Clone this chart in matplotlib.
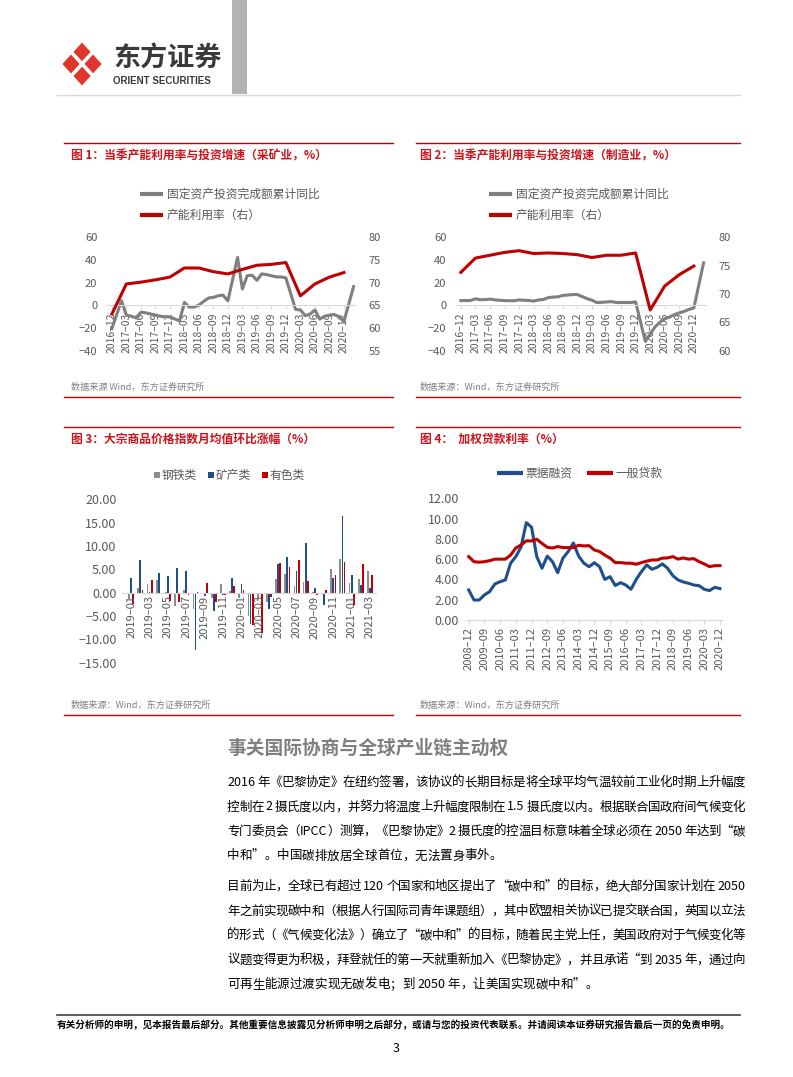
import re
import numpy as np
import pandas as pd
import matplotlib
matplotlib.use('Agg')
import matplotlib.pyplot as plt
from matplotlib.patches import Polygon, Rectangle
from matplotlib.textpath import TextToPath
from matplotlib.font_manager import FontProperties
from matplotlib.ticker import FuncFormatter

plt.rcParams['font.family'] = ['Noto Sans CJK SC', 'DejaVu Sans']
plt.rcParams['axes.unicode_minus'] = True

W, H = 793, 1077
RED = '#c00000'
GREY = '#7f7f7f'
BLUE = '#1f4e8c'
TXT = '#595959'

# ---- chart 1 / 2 : FAI (monthly, cumulative yoy) and capacity utilisation (quarterly)
quarters = ['2016-12', '2017-03', '2017-06', '2017-09', '2017-12', '2018-03', '2018-06',
            '2018-09', '2018-12', '2019-03', '2019-06', '2019-09', '2019-12', '2020-03',
            '2020-06', '2020-09', '2020-12']
fai_dates = ['2016-12', '2017-02', '2017-03', '2017-04', '2017-05', '2017-06', '2017-07',
             '2017-08', '2017-09', '2017-10', '2017-11', '2017-12', '2018-02', '2018-03',
             '2018-04', '2018-05', '2018-06', '2018-07', '2018-08', '2018-09', '2018-10',
             '2018-11', '2018-12', '2019-02', '2019-03', '2019-04', '2019-05', '2019-06',
             '2019-07', '2019-08', '2019-09', '2019-10', '2019-11', '2019-12', '2020-02',
             '2020-03', '2020-04', '2020-05', '2020-06', '2020-07', '2020-08', '2020-09',
             '2020-10', '2020-11', '2020-12', '2021-02']
mining_fai = [-20.3, 4.1, -8.5, -9.5, -11.0, -6.0, -6.5, -7.5, -8.5, -9.5, -10.0, -10.0,
              -13.6, 2.6, -1.5, -1.5, 0.3, 3.5, 6.5, 7.0, 8.5, 9.0, 4.0, 42.0, 14.4,
              26.0, 26.5, 22.0, 27.6, 27.0, 26.0, 25.0, 25.0, 24.1, -3.5, -4.0, -9.0,
              -7.6, -4.0, -12.0, -9.5, -8.5, -8.0, -10.0, -14.1, 16.5]
mining_cu = [63.1, 69.7, 70.1, 70.6, 71.2, 73.2, 73.2, 72.4, 71.9, 72.9, 73.8, 74.0,
             74.4, 67.1, 69.7, 71.2, 72.2]
manuf_fai = [4.2, 4.3, 5.8, 5.0, 5.1, 5.5, 4.9, 4.5, 4.2, 4.1, 4.1, 4.8, 4.3, 3.8, 4.8,
             5.2, 6.8, 7.3, 7.5, 8.7, 9.1, 9.5, 9.5, 5.9, 4.6, 2.5, 2.7, 3.0, 3.3, 2.6,
             2.5, 2.6, 2.5, 3.1, -31.5, -25.2, -18.8, -14.8, -11.7, -10.2, -8.1, -6.5,
             -5.3, -3.5, -2.2, 37.3]
manuf_cu = [73.8, 76.3, 76.8, 77.3, 77.6, 77.1, 77.2, 77.1, 76.9, 76.4, 76.8, 76.8,
            77.2, 67.2, 71.4, 73.4, 74.9]

# ---- chart 3 : commodity price index, monthly mom change
cmd_months = ['2019-01', '2019-02', '2019-03', '2019-04', '2019-05', '2019-06', '2019-07',
              '2019-08', '2019-09', '2019-10', '2019-11', '2019-12', '2020-01', '2020-02',
              '2020-03', '2020-04', '2020-05', '2020-06', '2020-07', '2020-08', '2020-09',
              '2020-10', '2020-11', '2020-12', '2021-01', '2021-02', '2021-03']
steel = [-1.4, 1.1, 1.9, 2.7, 0.1, -2.9, 0.6, -3.4, -0.2, -1.1, 1.9, 0.3, -1.2, -5.0,
         -1.4, -2.1, 2.9, 3.9, 1.5, 2.3, 0.1, 0.0, 5.1, 7.2, 2.0, 2.9, 4.7]
mineral = [3.1, 7.1, 0.2, 4.3, 3.6, 5.2, 4.6, -12.3, -0.7, -4.0, -0.4, 3.1, 1.9, -6.8,
           -0.1, -3.6, 6.1, 7.6, 4.7, 10.7, 1.1, -2.6, 3.1, 16.4, 3.8, 1.6, 0.9]
nonferrous = [-2.4, 0.6, 2.7, -0.1, -1.7, -2.1, -0.6, 0.1, 2.1, -1.9, -0.4, 1.4, 0.5,
              -6.9, -8.7, -0.9, 6.3, 5.4, 6.9, 2.5, -0.6, 0.6, 3.7, 6.5, -2.6, 6.1, 3.7]

# ---- chart 4 : weighted loan rates, quarterly 2008-12 .. 2020-12
loan_quarters = [str(p).replace('Q1', '-03').replace('Q2', '-06').replace('Q3', '-09').replace('Q4', '-12')
                 for p in pd.period_range('2008Q4', '2020Q4', freq='Q')]
bill_rate = [2.96, 1.97, 1.97, 2.47, 2.8, 3.55, 3.78, 3.95, 5.6, 6.25, 7.2, 9.6, 9.15,
             6.25, 5.1, 6.3, 5.75, 4.67, 6.1, 6.75, 7.6, 6.3, 5.6, 5.25, 5.65, 5.25, 4.0,
             4.27, 3.4, 3.68, 3.45, 3.03, 4.0, 4.77, 5.43, 5.0, 5.2, 5.53, 5.1, 4.37,
             3.95, 3.75, 3.62, 3.45, 3.39, 3.03, 2.9, 3.22, 3.1]
general_rate = [6.25, 5.75, 5.7, 5.75, 5.85, 6.0, 6.0, 6.0, 6.4, 7.1, 7.4, 7.8, 7.8, 7.96,
                7.55, 7.17, 7.1, 7.24, 7.14, 7.14, 7.14, 7.37, 7.3, 7.33, 6.9, 6.75, 6.4,
                6.1, 5.66, 5.66, 5.6, 5.6, 5.5, 5.66, 5.8, 5.92, 5.92, 6.1, 6.12, 6.25,
                6.0, 6.12, 6.0, 6.05, 5.75, 5.53, 5.26, 5.36, 5.36]

para1 = ['2016 年《巴黎协定》在纽约签署，该协议的长期目标是将全球平均气温较前工业化时期上升幅度',
         '控制在 2 摄氏度以内，并努力将温度上升幅度限制在 1.5 摄氏度以内。根据联合国政府间气候变化',
         '专门委员会（IPCC）测算，《巴黎协定》2 摄氏度的控温目标意味着全球必须在 2050 年达到“碳',
         '中和”。中国碳排放居全球首位，无法置身事外。']
para2 = ['目前为止，全球已有超过 120 个国家和地区提出了“碳中和”的目标，绝大部分国家计划在 2050',
         '年之前实现碳中和（根据人行国际司青年课题组），其中欧盟相关协议已提交联合国，英国以立法',
         '的形式（《气候变化法》）确立了“碳中和”的目标，随着民主党上任，美国政府对于气候变化等',
         '议题变得更为积极，拜登就任的第一天就重新加入《巴黎协定》，并且承诺“到 2035 年，通过向',
         '可再生能源过渡实现无碳发电；到 2050 年，让美国实现碳中和”。']


def month_index(s, start):
    y, m = map(int, s.split('-'))
    y0, m0 = map(int, start.split('-'))
    return (y - y0) * 12 + (m - m0)


def box(x0, y0, x1, y1):
    return [x0 / W, 1 - y1 / H, (x1 - x0) / W, (y1 - y0) / H]


fig = plt.figure(figsize=(W / 100, H / 100), dpi=100)
page = fig.add_axes([0, 0, 1, 1])
page.set_xlim(0, W)
page.set_ylim(H, 0)
page.axis('off')

# header
page.add_patch(Rectangle((232, 0), 15, 94, color='#b3b3b3', lw=0))
page.plot([57, 740], [95, 95], color='#d9d9d9', lw=1)
c = (82, 64)
T, R, B, L = (82, 40), (104, 64), (82, 88), (60, 64)
mid = lambda p, q: ((p[0] + q[0]) / 2, (p[1] + q[1]) / 2)
petals = [[T, mid(T, R), c, mid(L, T)], [mid(T, R), R, mid(R, B), c],
          [c, mid(R, B), B, mid(B, L)], [mid(L, T), c, mid(B, L), L]]
for pts in petals:
    page.add_patch(Polygon(pts, closed=True, fc='#e0352b', ec='white', lw=2.5, joinstyle='round'))
page.text(113, 59, '东方证券', fontsize=19.5, fontweight='bold', color='#3a3a3a', va='center')
page.text(113, 80.5, 'ORIENT SECURITIES', fontsize=7, fontweight='bold', color='#3a3a3a',
          va='center', family=['Liberation Sans Narrow', 'Liberation Sans', 'DejaVu Sans'])

# panel frames
for x0, x1 in [(64, 393), (416, 740)]:
    for y in (143, 397, 427, 715):
        page.plot([x0, x1], [y, y], color=RED, lw=1)

titles = [(71, 156, '图 1：当季产能利用率与投资增速（采矿业，%）'),
          (420, 156, '图 2：当季产能利用率与投资增速（制造业，%）'),
          (71, 439, '图 3：大宗商品价格指数月均值环比涨幅（%）'),
          (420, 439, '图 4：  加权贷款利率（%）')]
for x, y, t in titles:
    page.text(x, y, t, fontsize=8.5, fontweight='bold', color='#d0121b', va='center')

sources = [(71, 387, '数据来源 Wind，东方证券研究所'), (420, 387, '数据来源：Wind，东方证券研究所'),
           (71, 705, '数据来源：Wind，东方证券研究所'), (420, 705, '数据来源：Wind，东方证券研究所')]
for x, y, t in sources:
    page.text(x, y, t, fontsize=6.6, color='#808080', va='center')

# legends chart 1/2
for lx in (140, 489):
    page.plot([lx, lx + 23], [194, 194], color=GREY, lw=3, solid_capstyle='butt')
    page.text(lx + 27, 194, '固定资产投资完成额累计同比', fontsize=8.5, color=TXT, va='center')
    page.plot([lx, lx + 23], [215, 215], color=RED, lw=3, solid_capstyle='butt')
    page.text(lx + 27, 215, '产能利用率（右）', fontsize=8.5, color=TXT, va='center')

# legend chart 3
for sx, col, name in [(157, '#8c8c8c', '钢铁类'), (211, BLUE, '矿产类'), (265, RED, '有色类')]:
    page.add_patch(Rectangle((sx - 3, 472), 6, 6, color=col, lw=0))
    page.text(sx + 5, 475, name, fontsize=8.5, color=TXT, va='center')

# legend chart 4
page.plot([497, 523], [473, 473], color=BLUE, lw=3, solid_capstyle='butt')
page.text(525, 473, '票据融资', fontsize=8.5, color=TXT, va='center')
page.plot([587, 613], [473, 473], color=RED, lw=3, solid_capstyle='butt')
page.text(615, 473, '一般贷款', fontsize=8.5, color=TXT, va='center')


def style_cat_axis(ax, zero_spine, xsize):
    for s in ('top', 'left', 'right'):
        ax.spines[s].set_visible(False)
    if zero_spine:
        # moving the spine resets the ticks, so do it before label styling
        ax.spines['bottom'].set_position(('data', 0))
    ax.spines['bottom'].set_color('#d9d9d9')
    ax.tick_params(axis='x', length=3, color='#d9d9d9', labelcolor=TXT, pad=2,
                   labelrotation=90, labelsize=xsize)
    ax.tick_params(axis='y', length=0, labelcolor=TXT)
    ax.patch.set_alpha(0)


def fai_chart(rect, fai_vals, cu_vals, rlim):
    ax = fig.add_axes(box(*rect))
    xf = [month_index(d, quarters[0]) for d in fai_dates]
    xq = [month_index(q, quarters[0]) for q in quarters]
    ax.plot(xf, fai_vals, color=GREY, lw=2.2, solid_joinstyle='round')
    ax.set_xlim(-1, 50.5)
    ax.set_ylim(-40, 60)
    ax.set_yticks(range(-40, 61, 20))
    ax.set_xticks(xq)
    ax.set_xticklabels([q.replace('-', '–') for q in quarters])
    style_cat_axis(ax, True, 7.5)
    ax.tick_params(axis='y', labelsize=8, pad=7)
    ax2 = ax.twinx()
    ax2.plot(xq, cu_vals, color=RED, lw=2.2, solid_joinstyle='round')
    ax2.set_ylim(*rlim)
    ax2.set_yticks(range(rlim[0], rlim[1] + 1, 5))
    for s in ax2.spines.values():
        s.set_visible(False)
    ax2.tick_params(axis='y', length=0, labelsize=8, labelcolor=TXT, pad=9)
    return ax


fai_chart((107, 237, 356, 351), mining_fai, mining_cu, (55, 80))
fai_chart((456, 237, 706, 351), manuf_fai, manuf_cu, (60, 80))

# chart 3 bars
ax3 = fig.add_axes(box(122, 499.3, 376, 662.7))
xb = np.arange(len(cmd_months))
bw = 0.19
ax3.bar(xb - 0.23, steel, bw, color='#8c8c8c', lw=0)
ax3.bar(xb, mineral, bw, color=BLUE, lw=0)
ax3.bar(xb + 0.23, nonferrous, bw, color=RED, lw=0)
ax3.set_xlim(-1, 26.65)
ax3.set_ylim(-15, 20)
ax3.set_yticks(range(-15, 21, 5))
ax3.yaxis.set_major_formatter(FuncFormatter(lambda v, p: ('%.2f' % v).replace('-', '−')))
ax3.set_xticks(xb[::2])
ax3.set_xticklabels([m.replace('-', '–') for m in cmd_months[::2]])
style_cat_axis(ax3, True, 8)
ax3.tick_params(axis='x', length=0)
ax3.tick_params(axis='y', labelsize=9, pad=4)

# chart 4 lines
ax4 = fig.add_axes(box(466, 498.3, 723, 620))
xl = np.arange(len(loan_quarters))
ax4.plot(xl, bill_rate, color=BLUE, lw=2.2, solid_joinstyle='round')
ax4.plot(xl, general_rate, color=RED, lw=2.2, solid_joinstyle='round')
ax4.set_xlim(-0.52, 48.58)
ax4.set_ylim(0, 12)
ax4.set_yticks(range(0, 13, 2))
ax4.yaxis.set_major_formatter(FuncFormatter(lambda v, p: '%.2f' % v))
ax4.set_xticks(xl[::3])
ax4.set_xticklabels([q.replace('-', '–') for q in loan_quarters[::3]])
style_cat_axis(ax4, False, 8)
ax4.tick_params(axis='y', labelsize=9, pad=5)

# body text, justified: latin/number runs stay together, CJK chars spread
ttp = TextToPath()


def draw_line(text, x0, x1, y, size, justify, weight='normal', color='black'):
    prop = FontProperties(family='Noto Sans CJK SC', size=size, weight=weight)
    tokens = re.findall(r'[A-Za-z0-9.]+|.', text)
    widths = [ttp.get_text_width_height_descent(t, prop, ismath=False)[0] * 100 / 72 for t in tokens]
    gap = (x1 - x0 - sum(widths)) / (len(tokens) - 1) if justify else 0
    x = x0
    for t, w in zip(tokens, widths):
        page.text(x, y, t, fontsize=size, fontweight=weight, color=color, va='baseline', ha='left')
        x += w + gap


page.text(227, 748, '事关国际协商与全球产业链主动权', fontsize=13.5, fontweight='bold',
          color='#7f7f7f', va='center')
for i, ln in enumerate(para1):
    draw_line(ln, 227, 745, 786 + i * 24.5, 9, i < len(para1) - 1)
for i, ln in enumerate(para2):
    draw_line(ln, 227, 745, 890 + i * 24.5, 9, i < len(para2) - 1)

# footer
page.plot([57, 740], [1015, 1015], color='#404040', lw=1.2)
page.text(57, 1025, '有关分析师的申明，见本报告最后部分。其他重要信息披露见分析师申明之后部分，或请与您的投资代表联系。并请阅读本证券研究报告最后一页的免责申明。',
          fontsize=6.9, fontweight='bold', va='center')
page.text(396.5, 1048, '3', fontsize=9, ha='center', va='center')

fig.savefig('out.png', dpi=100)
